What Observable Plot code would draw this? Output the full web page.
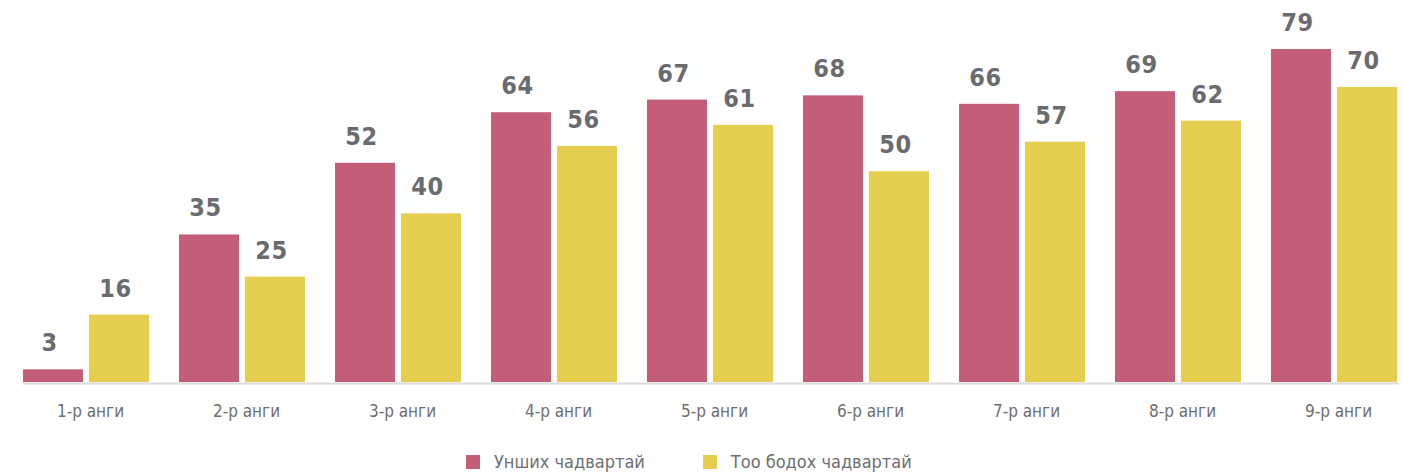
<!DOCTYPE html>
<html><head><meta charset="utf-8">
<script src="https://cdn.jsdelivr.net/npm/d3@7"></script>
<script src="https://cdn.jsdelivr.net/npm/@observablehq/plot@0.6"></script>
<style>
html,body{margin:0;padding:0;background:#fff;overflow:hidden;}
body{font-family:"Liberation Sans Narrow","DejaVu Sans Condensed","Roboto",sans-serif;}
#chart svg{display:block;font-family:"Liberation Sans Narrow","DejaVu Sans Condensed","Roboto",sans-serif;}
.vals text{letter-spacing:0.5px;}
#legend{height:44px;line-height:1;display:flex;align-items:center;padding-left:466px;color:#6d6e71;font-size:18px;}
#legend .item{display:flex;align-items:center;}
#legend .sw{width:14px;height:14px;margin-right:14px;}
#legend .item + .item{margin-left:58px;}
</style></head><body>
<div id="chart"></div>
<div id="legend"></div>
<script>
const grades = ["1-р анги","2-р анги","3-р анги","4-р анги","5-р анги","6-р анги","7-р анги","8-р анги","9-р анги"];
const series = ["Унших чадвартай","Тоо бодох чадвартай"];
const reading = [3,35,52,64,67,68,66,69,79];
const math = [16,25,40,56,61,50,57,62,70];
const colors = ["#c45d78","#e5cd4f"];

const data = grades.flatMap((g,i)=>[
  {grade:g, series:series[0], value:reading[i]},
  {grade:g, series:series[1], value:math[i]}
]);

const plot = Plot.plot({
  width:1403, height:440,
  marginTop:0, marginLeft:6, marginRight:0, marginBottom:58,
  fx:{domain:grades, range:[22,1398], paddingInner:0.1936, paddingOuter:0, label:null},
  x:{domain:series, paddingInner:0.0952, paddingOuter:0, axis:null},
  y:{domain:[0,79], range:[382,49], axis:null},
  color:{domain:series, range:colors},
  marks:[
    Plot.barY(data,{fx:"grade", x:"series", y:"value", fill:"series"}),
    Plot.frame({anchor:"bottom", facet:"super", stroke:"#dcdcdc", strokeWidth:2, dy:1}),
    Plot.text(data,{fx:"grade", x:"series", y:"value", text:"value", dy:-18.5, dx:-4, lineAnchor:"bottom", fontSize:25, fontWeight:"bold", fill:"#6a6b6f", className:"vals"}),
    Plot.axisFx({anchor:"bottom", tickSize:0, tickPadding:22, fontSize:17, fill:"#6d6e71", label:null, dx:4})
  ]
});
document.getElementById("chart").appendChild(plot);

const legend = document.getElementById("legend");
series.forEach((s,i)=>{
  const it = document.createElement("div"); it.className="item";
  const sw = document.createElement("div"); sw.className="sw"; sw.style.background=colors[i];
  const t = document.createElement("span"); t.textContent=s;
  it.appendChild(sw); it.appendChild(t); legend.appendChild(it);
});
</script>
</body></html>
